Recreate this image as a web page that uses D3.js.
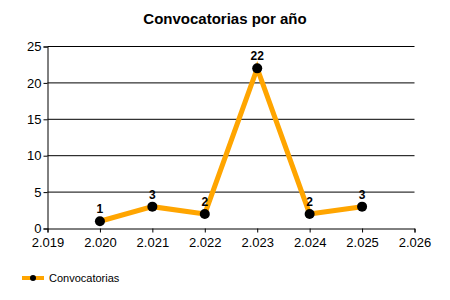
<!DOCTYPE html>
<html><head><meta charset="utf-8">
<script src="https://cdn.jsdelivr.net/npm/d3@7"></script>
<style>body{margin:0;background:#fff}svg{display:block}</style>
</head><body>
<svg id="c" width="450" height="300"></svg>
<script>
const title = "Convocatorias por año";
const seriesName = "Convocatorias";
const years = [2020, 2021, 2022, 2023, 2024, 2025];
const values = [1, 3, 2, 22, 2, 3];
const xTicks = [2019, 2020, 2021, 2022, 2023, 2024, 2025, 2026];
const yTicks = [0, 5, 10, 15, 20, 25];

const svg = d3.select("#c");
const font = "Liberation Sans, Arial, sans-serif";
const x = d3.scaleLinear().domain([2019, 2026]).range([47.5, 414.5]);
const y = d3.scaleLinear().domain([0, 25]).range([228.5, 46.5]);

svg.append("text").attr("x", 225).attr("y", 24).attr("text-anchor", "middle")
  .attr("font-family", font).attr("font-size", 15).attr("font-weight", "bold")
  .attr("fill", "#000").text(title);

// gridlines
svg.append("g").selectAll("line").data(yTicks.filter(d => d > 0)).join("line")
  .attr("x1", x(2019)).attr("x2", x(2026))
  .attr("y1", d => y(d)).attr("y2", d => y(d))
  .attr("stroke", "#000").attr("stroke-width", 1);

const yAxis = svg.append("g").attr("transform", `translate(${x(2019)},0)`)
  .call(d3.axisLeft(y).tickValues(yTicks).tickSize(4).tickPadding(2).tickFormat(d3.format("d")));
const xAxis = svg.append("g").attr("transform", `translate(0,${y(0)})`)
  .call(d3.axisBottom(x).tickValues(xTicks).tickSize(4).tickPadding(5)
    .tickFormat(d => String(d).slice(0,1) + "." + String(d).slice(1)));
[yAxis, xAxis].forEach(a => {
  a.select(".domain").attr("stroke", "#000").attr("stroke-width", 1);
  a.selectAll(".tick line").attr("stroke", "#000");
  a.selectAll("text").attr("font-family", font).attr("font-size", 13).attr("fill", "#000");
});

const data = years.map((yr, i) => ({yr, v: values[i]}));
const line = d3.line().x(d => x(d.yr)).y(d => y(d.v));
svg.append("path").datum(data).attr("d", line).attr("fill", "none")
  .attr("stroke", "#FFA500").attr("stroke-width", 5).attr("stroke-linejoin", "miter");
svg.append("g").selectAll("circle").data(data).join("circle")
  .attr("cx", d => x(d.yr)).attr("cy", d => y(d.v)).attr("r", 5).attr("fill", "#000");
svg.append("g").selectAll("text").data(data).join("text")
  .attr("x", d => x(d.yr)).attr("y", d => y(d.v) - 8).attr("text-anchor", "middle")
  .attr("font-family", font).attr("font-size", 12).attr("font-weight", "bold").attr("fill", "#000")
  .text(d => d.v);

// legend
const lg = svg.append("g");
lg.append("line").attr("x1", 22).attr("x2", 44).attr("y1", 278).attr("y2", 278)
  .attr("stroke", "#FFA500").attr("stroke-width", 4);
lg.append("circle").attr("cx", 33).attr("cy", 278).attr("r", 3).attr("fill", "#000");
lg.append("text").attr("x", 49).attr("y", 282).attr("font-family", font).attr("font-size", 11)
  .attr("fill", "#000").text(seriesName);
</script>
</body></html>
